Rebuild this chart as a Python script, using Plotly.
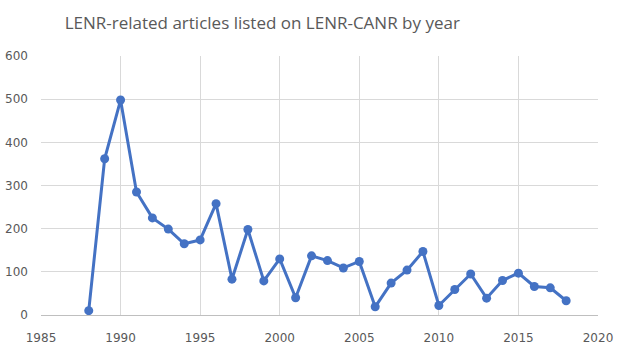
import plotly.graph_objects as go

# Yearly counts of LENR-related articles in the LENR-CANR library
years = list(range(1988, 2019))
articles = [10, 362, 498, 285, 225, 199, 165, 174, 258, 83,
            198, 79, 130, 40, 137, 126, 109, 124, 19, 74,
            104, 147, 22, 59, 95, 39, 80, 97, 66, 63, 33]

x_ticks = [1985, 1990, 1995, 2000, 2005, 2010, 2015, 2020]
y_ticks = [0, 100, 200, 300, 400, 500, 600]

LINE = "#4472C4"
TEXT = "#595959"
GRID = "#D9D9D9"

fig = go.Figure(
    go.Scatter(
        x=years,
        y=articles,
        mode="lines+markers",
        line=dict(color=LINE, width=3),
        marker=dict(color=LINE, size=9),
        hoverinfo="x+y",
    )
)

fig.update_layout(
    width=623,
    height=348,
    margin=dict(l=41, r=25, t=56, b=33),
    paper_bgcolor="white",
    plot_bgcolor="white",
    showlegend=False,
    title=dict(
        text="LENR-related articles listed on LENR-CANR by year",
        x=0.421,
        xanchor="center",
        y=0.935,
        yanchor="middle",
        font=dict(family="Open Sans", size=17, color=TEXT),
    ),
    font=dict(family="DejaVu Sans", size=12, color=TEXT),
)

fig.update_xaxes(
    range=[1985, 2020],
    tickvals=x_ticks,
    ticktext=[str(v) for v in x_ticks],
    showgrid=True,
    gridcolor=GRID,
    gridwidth=1,
    zeroline=False,
    showline=True,
    linecolor="#BFBFBF",
    linewidth=1,
    ticks="",
    ticklabelstandoff=12,
    automargin=False,
)

fig.update_yaxes(
    range=[0, 600],
    tickvals=y_ticks,
    ticktext=[str(v) for v in y_ticks],
    showgrid=True,
    gridcolor=GRID,
    gridwidth=1,
    zeroline=False,
    showline=False,
    ticks="",
    ticklabelstandoff=12,
    automargin=False,
)

fig.write_html("out.html")
